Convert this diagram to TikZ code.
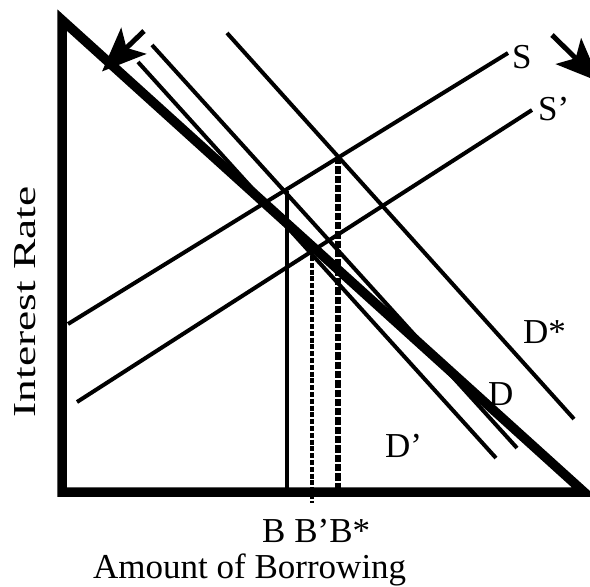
\documentclass[tikz,border=0pt]{standalone}
\usepackage{fontspec}
\setmainfont{Liberation Serif}
\usepackage{graphicx}
\usetikzlibrary{arrows.meta}
\tikzset{
  thinline/.style={line width=4pt, line cap=butt},
  axisline/.style={line width=9.5pt, line join=miter},
  lbl/.style={inner sep=0pt, anchor=base west, font=\fontsize{35}{35}\selectfont},
  bigarrow/.style={line width=5pt, -{Stealth[length=44pt, width=36pt, inset=10pt]}},
  bstar/.style={line width=6.5pt, dash pattern=on 7.3pt off 2pt},
  bprime/.style={line width=4pt, dash pattern=on 5pt off 1.8pt}
}
\begin{document}
\begin{tikzpicture}[x=1pt,y=-1pt]
\useasboundingbox (0,0) rectangle (590,587);
\clip (0,0) rectangle (590,587);
% axes triangle
\coordinate (top) at (62,20);
\coordinate (orig) at (62,492);
\coordinate (xend) at (584,492);
\draw[axisline] (top) -- (orig) -- (xend) -- cycle;
% supply lines
\coordinate (S0) at (68,324);
\coordinate (S1) at (508,53);
\coordinate (Sp0) at (77,402);
\coordinate (Sp1) at (532,110);
\draw[thinline] (S0) -- (S1);
\draw[thinline] (Sp0) -- (Sp1);
% demand lines
\coordinate (Ds0) at (227,33);
\coordinate (Ds1) at (574,419);
\coordinate (D0) at (152,45);
\coordinate (D1) at (517,448);
\coordinate (Dp0) at (138,62);
\coordinate (Dp1) at (496,458);
\draw[thinline] (Ds0) -- (Ds1);
\draw[thinline] (D0) -- (D1);
\draw[thinline] (Dp0) -- (Dp1);
% verticals
\coordinate (B0) at (287,191);
\coordinate (B1) at (287,490);
\coordinate (Bp0) at (312,256);
\coordinate (Bp1) at (312,503);
\coordinate (Bs0) at (338,157);
\coordinate (Bs1) at (338,490);
\draw[line width=3.5pt] (B0) -- (B1);
\draw[bprime] (Bp0) -- (Bp1);
\draw[bstar] (Bs0) -- (Bs1);
% shift arrows
\coordinate (A0) at (144,31);
\coordinate (A1) at (102,71.5);
\coordinate (R0) at (552,35);
\coordinate (R1) at (600,82);
\draw[bigarrow] (A0) -- (A1);
\draw[bigarrow] (R0) -- (R1);
% labels
\node[lbl] (lS) at (512,68) {S};
\node[lbl] (lSp) at (538,120) {S’};
\node[lbl] (lDs) at (523,343) {D*};
\node[lbl] (lD) at (488,405) {D};
\node[lbl] (lDp) at (385,457) {D’};
\node[lbl] (lB) at (262,542) {B\ B’B*};
\node[lbl] (lx) at (93,578) {Amount of Borrowing};
\node[inner sep=0pt, anchor=base, rotate=90, font=\fontsize{32}{32}\selectfont] (ly) at (35,302) {\scalebox{1.42}[1]{Interest Rate}};
\end{tikzpicture}
\end{document}
